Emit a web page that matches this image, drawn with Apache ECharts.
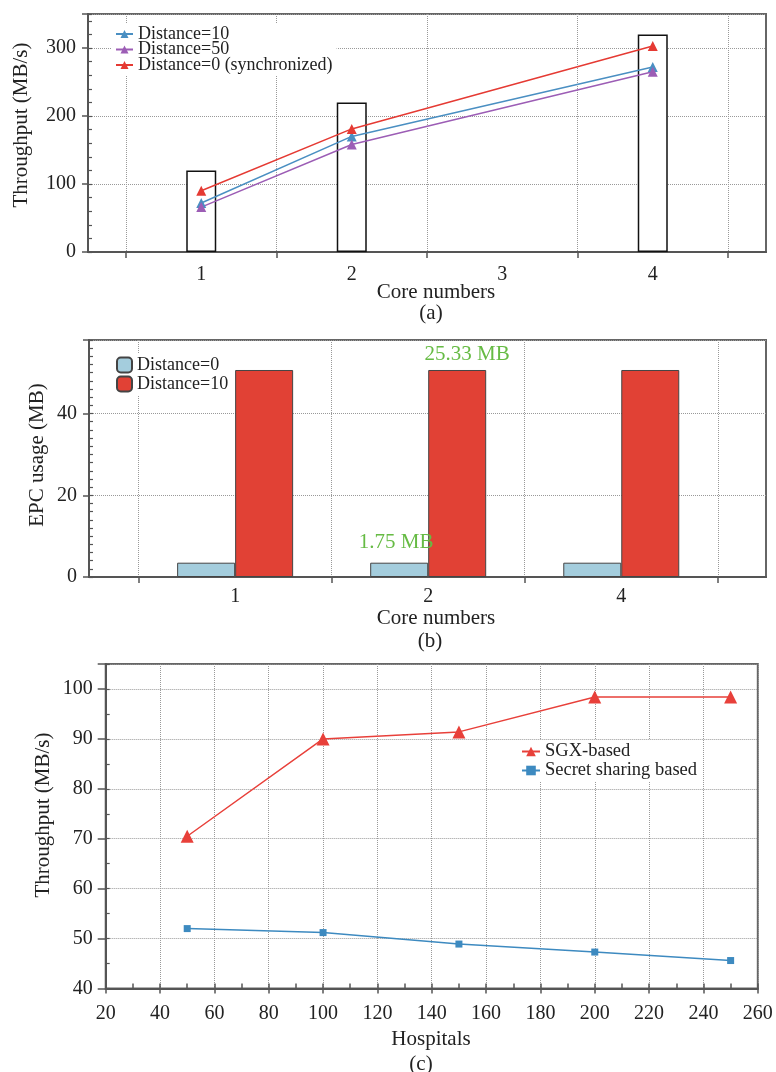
<!DOCTYPE html>
<html>
<head>
<meta charset="utf-8">
<script src="https://cdn.jsdelivr.net/npm/echarts@6/dist/echarts.min.js"></script>
<style>
html,body{margin:0;padding:0;background:#fff;}
#main{width:776px;height:1072px;}
</style>
</head>
<body>
<div id="main"></div>
<script>
// (a) throughput vs core numbers
var coreCats = ['1', '2', '3', '4'];
var capBars = [120, 220, null, 320];
var thrD10 = [72, 170, null, 272];
var thrD50 = [66, 158, null, 265];
var thrD0 = [90, 181, null, 303];
// (b) EPC usage
var epcCats = ['1', '2', '4'];
var epcD0 = [3.5, 3.5, 3.5];
var epcD10 = [50.66, 50.66, 50.66];
// (c) throughput vs hospitals
var hospitals = [50, 100, 150, 200, 250];
var sgx = [70.5, 90.0, 91.4, 98.4, 98.4];
var secret = [52.0, 51.2, 48.9, 47.3, 45.6];

var FONT = 'Liberation Serif';
var TXT = '#222';
var AX = '#555';

function pairs(xs, ys){
	var out = [];
	for(var i=0;i<xs.length;i++){ out.push([xs[i], ys[i]]); }
	return out;
}
function axLine(){ return {show:true, lineStyle:{color:AX, width:2}}; }
function dotted(){ return {show:true, lineStyle:{color:'#999', type:'dotted', width:1}}; }
function txt(x, y, s, rot){
	return {type:'text', x:x, y:y, rotation:rot||0,
		style:{text:s, fill:TXT, font:'21px "' + FONT + '"', align:'center', verticalAlign:'middle'}};
}

var myChart = echarts.init(document.getElementById('main'));
var option = {
	backgroundColor:'#fff',
	animation:false,
	textStyle:{fontFamily:FONT},
	grid:[
		{left:88, right:10, top:14, bottom:820, show:true, borderColor:'#666', borderWidth:2},
		{left:126, right:48, top:14, bottom:820},
		{left:89, right:10, top:340, bottom:495, show:true, borderColor:'#666', borderWidth:2},
		{left:138.6, right:58.2, top:340, bottom:495},
		{left:105.7, right:18.2, top:664, bottom:83.5, show:true, borderColor:'#666', borderWidth:2}
	],
	xAxis:[
		{gridIndex:0, type:'value', min:0, max:1, axisLine:axLine(), axisTick:{show:false}, axisLabel:{show:false}, splitLine:{show:false}},
		{gridIndex:1, type:'category', data:coreCats, boundaryGap:true,
			axisLine:{show:true, lineStyle:{color:'rgba(0,0,0,0)'}},
			axisTick:{show:true, length:6, lineStyle:{color:AX, width:1.5}},
			axisLabel:{color:TXT, fontSize:20, fontFamily:FONT, margin:13},
			splitLine:dotted()},
		{gridIndex:2, type:'value', min:0, max:1, axisLine:axLine(), axisTick:{show:false}, axisLabel:{show:false}, splitLine:{show:false}},
		{gridIndex:3, type:'category', data:epcCats, boundaryGap:true,
			axisLine:{show:true, lineStyle:{color:'rgba(0,0,0,0)'}},
			axisTick:{show:true, length:6, lineStyle:{color:AX, width:1.5}},
			axisLabel:{color:TXT, fontSize:20, fontFamily:FONT, margin:10},
			splitLine:dotted()},
		{gridIndex:4, type:'value', min:20, max:260, interval:20, axisLine:axLine(),
			axisTick:{show:true, length:5, lineStyle:{color:AX, width:1.5}},
			axisLabel:{color:TXT, fontSize:20, fontFamily:FONT, margin:15},
			splitLine:dotted()},
		{gridIndex:4, type:'value', position:'bottom', min:20, max:260, interval:10, axisLine:{show:false},
			axisTick:{show:true, inside:true, length:5, lineStyle:{color:AX, width:1.5}},
			axisLabel:{show:false}, splitLine:{show:false}}
	],
	yAxis:[
		{gridIndex:0, type:'value', min:0, max:350, interval:100, axisLine:axLine(),
			axisTick:{show:true, length:6, lineStyle:{color:AX, width:1.5}},
			axisLabel:{color:TXT, fontSize:20, fontFamily:FONT, margin:12,
				formatter:function(v){ return v % 100 === 0 ? v : ''; }},
			splitLine:dotted()},
		{gridIndex:0, type:'value', position:'left', min:0, max:350, interval:20, axisLine:{show:false},
			axisTick:{show:true, inside:true, length:4, lineStyle:{color:AX, width:1.2}},
			axisLabel:{show:false}, splitLine:{show:false}},
		{gridIndex:1, type:'value', min:0, max:350, show:false},
		{gridIndex:2, type:'value', min:0, max:58, interval:20, axisLine:axLine(),
			axisTick:{show:true, length:6, lineStyle:{color:AX, width:1.5}},
			axisLabel:{color:TXT, fontSize:20, fontFamily:FONT, margin:12,
				formatter:function(v){ return v % 20 === 0 ? v : ''; }},
			splitLine:dotted()},
		{gridIndex:2, type:'value', position:'left', min:0, max:58, interval:2, axisLine:{show:false},
			axisTick:{show:true, inside:true, length:4, lineStyle:{color:AX, width:1.2}},
			axisLabel:{show:false}, splitLine:{show:false}},
		{gridIndex:3, type:'value', min:0, max:58, show:false},
		{gridIndex:4, type:'value', min:40, max:105, interval:10, axisLine:axLine(),
			axisTick:{show:true, length:8, lineStyle:{color:AX, width:1.5}},
			axisLabel:{color:TXT, fontSize:20, fontFamily:FONT, margin:13,
				formatter:function(v){ return v % 10 === 0 ? v : ''; }},
			splitLine:dotted()},
		{gridIndex:4, type:'value', position:'left', min:40, max:105, interval:5, axisLine:{show:false},
			axisTick:{show:true, inside:true, length:4, lineStyle:{color:AX, width:1.2}},
			axisLabel:{show:false}, splitLine:{show:false}}
	],
	legend:[
		{data:['Distance=10', 'Distance=50', 'Distance=0 (synchronized)'], orient:'vertical',
			left:111, top:23, padding:[2,4], itemGap:-2.5, itemWidth:17, itemHeight:10,
			backgroundColor:'#fff',
			textStyle:{color:TXT, fontSize:18, fontFamily:FONT}},
		{data:['b:Distance=0', 'b:Distance=10'], orient:'vertical',
			left:112, top:354, padding:[2,4], itemGap:1, itemWidth:15, itemHeight:15,
			icon:'roundRect', backgroundColor:'#fff',
			formatter:function(n){ return n.replace('b:', ''); },
			textStyle:{color:TXT, fontSize:18, fontFamily:FONT}},
		{data:['SGX-based', 'Secret sharing based'], orient:'vertical',
			left:517, top:740, padding:[2,4], itemGap:0, itemWidth:18, itemHeight:12,
			backgroundColor:'#fff',
			textStyle:{color:TXT, fontSize:18.5, fontFamily:FONT}}
	],
	series:[
		{name:'cap', type:'bar', xAxisIndex:1, yAxisIndex:2, data:capBars, barWidth:30,
			itemStyle:{color:'#fff', borderColor:'#111', borderWidth:1.5}, z:1},
		{name:'Distance=10', type:'line', xAxisIndex:1, yAxisIndex:2, data:thrD10, connectNulls:true,
			symbol:'triangle', symbolSize:10, color:'#4a8fc2', lineStyle:{width:1.5}},
		{name:'Distance=50', type:'line', xAxisIndex:1, yAxisIndex:2, data:thrD50, connectNulls:true,
			symbol:'triangle', symbolSize:10, color:'#9c5db5', lineStyle:{width:1.5}},
		{name:'Distance=0 (synchronized)', type:'line', xAxisIndex:1, yAxisIndex:2, data:thrD0, connectNulls:true,
			symbol:'triangle', symbolSize:10, color:'#e53a33', lineStyle:{width:1.5}},
		{name:'b:Distance=0', type:'bar', xAxisIndex:3, yAxisIndex:5, barWidth:58, barGap:'0%',
			itemStyle:{color:'#a4cddd', borderColor:'#444', borderWidth:1},
			data:[epcD0[0], {value:epcD0[1], label:{show:true, position:'top', formatter:'1.75 MB',
				color:'#66bb44', fontSize:21, fontFamily:FONT, offset:[-3, -5]}}, epcD0[2]]},
		{name:'b:Distance=10', type:'bar', xAxisIndex:3, yAxisIndex:5, barWidth:58, barGap:'0%',
			itemStyle:{color:'#e14135', borderColor:'#444', borderWidth:1},
			data:[epcD10[0], {value:epcD10[1], label:{show:true, position:'top', formatter:'25.33 MB',
				color:'#66bb44', fontSize:21, fontFamily:FONT, offset:[10, 0]}}, epcD10[2]]},
		{name:'SGX-based', type:'line', xAxisIndex:4, yAxisIndex:6, data:pairs(hospitals, sgx),
			symbol:'triangle', symbolSize:13, color:'#e8403a', lineStyle:{width:1.5}},
		{name:'Secret sharing based', type:'line', xAxisIndex:4, yAxisIndex:6, data:pairs(hospitals, secret),
			symbol:'rect', symbolSize:7, color:'#3d8ac0', lineStyle:{width:1.5}}
	],
	graphic:[
		txt(21, 125, 'Throughput (MB/s)', Math.PI/2),
		txt(436, 292, 'Core numbers'),
		txt(431, 313, '(a)'),
		txt(37, 455, 'EPC usage (MB)', Math.PI/2),
		txt(436, 618, 'Core numbers'),
		txt(430, 641, '(b)'),
		txt(43, 815, 'Throughput (MB/s)', Math.PI/2),
		txt(431, 1039, 'Hospitals'),
		txt(421, 1064, '(c)')
	]
};
myChart.setOption(option);
</script>
</body>
</html>
